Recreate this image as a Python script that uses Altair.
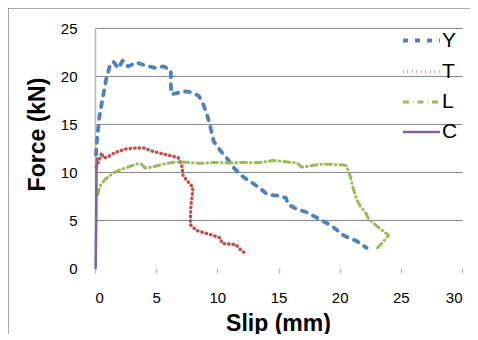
import altair as alt
import pandas as pd

series_names = ["Y", "T", "L", "C"]

y_slip = [0.08, 0.15, 0.35, 0.6, 0.9, 1.2, 1.5, 1.9, 2.27, 2.7, 3.4, 4.1, 4.9, 5.6, 6.2, 6.2, 6.25,
          6.6, 7.4, 7.9, 8.5, 8.9, 9.15, 9.35, 9.5, 9.7, 10.2, 10.8, 11.3, 12.0, 12.8, 13.4, 14.1,
          14.9, 15.6, 15.8, 16.4, 17.3, 18.4, 19.4, 20.3, 21.4, 22.2]
y_force = [11.8, 13.1, 15.7, 17.5, 19.6, 21.0, 21.5, 20.8, 21.6, 21.0, 21.4, 21.1, 20.85, 21.0, 20.6,
           19.1, 18.1, 18.2, 18.4, 18.3, 17.9, 16.9, 16.0, 15.1, 14.3, 13.2, 12.3, 11.4, 10.5, 9.6,
           8.9, 8.4, 7.65, 7.55, 7.3, 6.6, 6.2, 5.8, 5.05, 4.35, 3.4, 2.8, 2.1]

t_slip = [0.1, 0.3, 0.55, 0.66, 0.95, 1.6, 2.5, 3.3, 4.0, 4.6, 5.5, 6.3, 6.8, 7.1, 7.2, 7.6, 8.0,
          7.95, 7.85, 7.8, 7.8, 8.3, 9.4, 10.2, 10.4, 11.5, 11.9, 12.4]
t_force = [10.5, 11.1, 12.0, 11.5, 11.5, 12.0, 12.4, 12.5, 12.5, 12.2, 11.9, 11.65, 11.5, 10.6, 9.6,
           9.0, 8.4, 7.6, 6.6, 5.4, 4.5, 3.9, 3.5, 3.15, 2.55, 2.45, 1.9, 1.4]

l_slip = [0.2, 0.27, 0.4, 0.8, 1.5, 2.2, 2.7, 3.4, 3.8, 4.1, 4.6, 5.5, 6.3, 7.1, 8.6, 9.7, 11.0,
          12.4, 13.5, 14.6, 15.7, 16.5, 16.9, 17.9, 18.4, 19.4, 20.5, 20.7, 20.9, 21.1, 21.4, 21.7,
          22.1, 22.4, 23.1, 23.6, 24.0, 23.6, 23.1]
l_force = [7.6, 7.9, 8.5, 9.2, 9.9, 10.3, 10.5, 10.85, 10.8, 10.4, 10.5, 10.8, 11.0, 11.05, 10.9,
           11.0, 10.95, 11.0, 11.0, 11.2, 11.05, 10.95, 10.5, 10.7, 10.8, 10.8, 10.7, 10.2, 9.4, 8.3,
           7.1, 6.4, 5.8, 5.05, 4.3, 3.8, 3.4, 2.8, 2.1]

c_slip = [0.05, 0.1, 0.12, 0.15]
c_force = [0.0, 5.0, 10.0, 11.4]

x_ticks = [0, 5, 10, 15, 20, 25, 30]
y_ticks = [0, 5, 10, 15, 20, 25]

colors = ["#4F81BD", "#C0504D", "#9BBB59", "#8064A2"]
dashes = [[5, 7], [0.5, 4], [6, 4, 0.5, 4], [1, 0]]
widths = [3.8, 2.6, 3.2, 4.5]

rows = []
for name, xs, ys in [("Y", y_slip, y_force), ("T", t_slip, t_force),
                     ("L", l_slip, l_force), ("C", c_slip, c_force)]:
    for i, (a, b) in enumerate(zip(xs, ys)):
        rows.append({"series": name, "slip": a, "force": b, "idx": i})
df = pd.DataFrame(rows)

FONT = "Liberation Sans"

def leg():
    return alt.Legend(title=None, orient="none", legendX=306, legendY=-8,
                      symbolType="stroke", symbolSize=1369, labelFontSize=21,
                      labelFont=FONT, labelColor="black", labelOffset=0,
                      rowPadding=-9.8, padding=0)

lines = alt.Chart(df).mark_line(strokeCap="round", strokeJoin="round").encode(
    x=alt.X("slip:Q", scale=alt.Scale(domain=[0, 30], nice=False),
            axis=alt.Axis(values=x_ticks, title="Slip (mm)", domain=False, grid=False,
                          ticks=True, tickColor="#bfbfbf", tickSize=5, tickWidth=1.5,
                          labelFontSize=15, labelFont=FONT, labelColor="black",
                          labelPadding=17, titleFontSize=23, titleFont=FONT,
                          titleFontWeight="bold", titleColor="black",
                          titleX=183, titleY=55, titleBaseline="middle")),
    y=alt.Y("force:Q", scale=alt.Scale(domain=[0, 25], nice=False),
            axis=alt.Axis(values=y_ticks, title="Force (kN)", domain=True,
                          domainColor="#b8b8b8", domainWidth=1.5, grid=True,
                          gridColor={"condition": {"test": "datum.value === 0", "value": "transparent"},
                                     "value": "#868686"},
                          ticks=False, tickSize=0, labelFontSize=15, labelFont=FONT,
                          labelColor="black", labelPadding=18, titleFontSize=23,
                          titleFont=FONT, titleFontWeight="bold", titleColor="black",
                          titleX=-58, titleY=106, titleBaseline="middle")),
    color=alt.Color("series:N", scale=alt.Scale(domain=series_names, range=colors), legend=leg()),
    strokeDash=alt.StrokeDash("series:N", scale=alt.Scale(domain=series_names, range=dashes), legend=leg()),
    strokeWidth=alt.StrokeWidth("series:N", scale=alt.Scale(domain=series_names, range=widths), legend=leg()),
    order=alt.Order("idx:Q"),
)

frame = pd.DataFrame({"k": [0]})
left_border = alt.Chart(frame).mark_rule(color="#8c8c8c", strokeWidth=1.5).encode(
    x=alt.value(-87), y=alt.value(-20), y2=alt.value(310))
top_border = alt.Chart(frame).mark_rule(color="#8c8c8c", strokeWidth=1.5).encode(
    x=alt.value(-87), x2=alt.value(380), y=alt.value(-20))

chart = alt.layer(left_border, top_border, lines).properties(
    width=367, height=240,
    autosize=alt.AutoSizeParams(type="none"),
    padding={"left": 87, "top": 20, "right": 8, "bottom": 66},
).configure_view(stroke=None)

chart.save("out.html", embed_options={"renderer": "svg", "actions": False})
